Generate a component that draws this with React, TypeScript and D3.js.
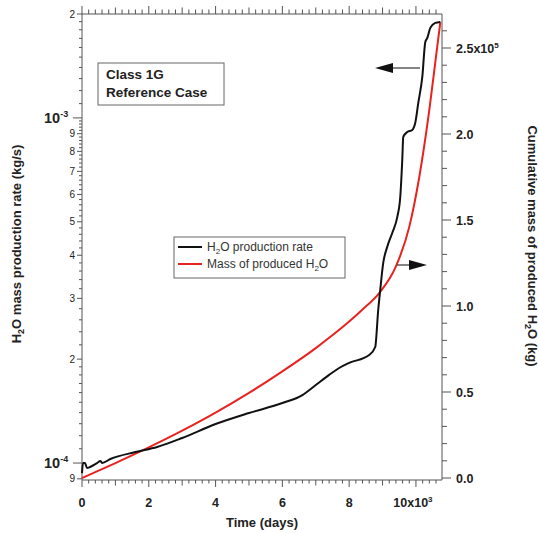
import React from "react";
import * as d3 from "d3";

const W = 539;
const H = 533;

// Time (10^3 days) and H2O mass production rate (kg/s)
const rateTime = [0, 0.03, 0.09, 0.15, 0.24, 0.45, 0.55, 0.6, 0.85, 1.6, 2.25, 3, 4, 5, 6, 6.6, 7.0, 7.4, 7.7, 8.0, 8.6, 8.78, 8.87, 8.93, 9.02, 9.14, 9.29, 9.44, 9.53, 9.59, 9.62, 9.74, 9.89, 9.98, 10.07, 10.19, 10.28, 10.34, 10.43, 10.58, 10.73];
const rateValues = [0.935e-4, 1.0e-4, 1.0e-4, 0.967e-4, 0.974e-4, 1.0e-4, 1.013e-4, 1.0e-4, 1.027e-4, 1.076e-4, 1.113e-4, 1.182e-4, 1.297e-4, 1.396e-4, 1.492e-4, 1.574e-4, 1.683e-4, 1.8e-4, 1.885e-4, 1.95e-4, 2.056e-4, 2.169e-4, 2.776e-4, 3.17e-4, 3.8e-4, 4.23e-4, 4.64e-4, 5.16e-4, 5.9e-4, 7.55e-4, 8.81e-4, 9.1e-4, 9.23e-4, 9.68e-4, 1.105e-3, 1.314e-3, 1.66e-3, 1.705e-3, 1.823e-3, 1.885e-3, 1.897e-3];

// Time (10^3 days) and cumulative mass of produced H2O (kg)
const massTime = [0, 1, 2, 3, 4, 5, 6, 7, 7.4, 8, 8.4, 8.9, 9.4, 9.8, 10.1, 10.4, 10.6, 10.73];
const massValues = [0, 0.087e5, 0.178e5, 0.275e5, 0.38e5, 0.495e5, 0.62e5, 0.755e5, 0.815e5, 0.91e5, 0.98e5, 1.075e5, 1.23e5, 1.46e5, 1.75e5, 2.14e5, 2.45e5, 2.65e5];

// Tick labels
const xTickValues = [0, 2, 4, 6, 8, 10];
const xTickLabels = ["0", "2", "4", "6", "8", "10x10"];
const xTickSup = ["", "", "", "", "", "3"];
const leftTickValues = [9e-5, 2e-4, 3e-4, 4e-4, 5e-4, 6e-4, 7e-4, 8e-4, 9e-4, 2e-3];
const leftTickLabels = ["9", "2", "3", "4", "5", "6", "7", "8", "9", "2"];
const leftDecadeValues = [1e-4, 1e-3];
const leftDecadeExps = ["-4", "-3"];
const rightTickValues = [0, 0.5e5, 1.0e5, 1.5e5, 2.0e5, 2.5e5];
const rightTickLabels = ["0.0", "0.5", "1.0", "1.5", "2.0", "2.5x10"];
const rightTickSup = ["", "", "", "", "", "5"];

const legendLabels = ["production rate", "Mass of produced H"];

const FONT = "'Liberation Sans', Arial, Helvetica, sans-serif";
const AX = "#555";
const TXT = "#222";

export default function App() {
  const L = 82, R = 442, T = 14, B = 480;
  const x = d3.scaleLinear().domain([0, 10.78]).range([L, R]);
  const yL = d3.scaleLog().domain([8.93e-5, 2.0e-3]).range([B, T]);
  const yR = d3.scaleLinear().domain([-1160, 269770]).range([B, T]);

  const rateLine = d3
    .line<number>()
    .x((_, i) => x(rateTime[i]))
    .y((d) => yL(d))
    .curve(d3.curveMonotoneX);
  const massLine = d3
    .line<number>()
    .x((_, i) => x(massTime[i]))
    .y((d) => yR(d))
    .curve(d3.curveMonotoneX);

  // x minor ticks every 0.2
  const xTicks: { v: number; len: number }[] = [];
  for (let k = 0; k <= 53; k++) {
    const v = k * 0.2;
    const isMajor = k % 10 === 0;
    const isMid = k % 5 === 0 && !isMajor;
    xTicks.push({ v, len: isMajor ? 7 : isMid ? 5.5 : 3.5 });
  }

  // left log minor ticks
  const leftMinor: number[] = [];
  [1e-4, 1e-3].forEach((d) => {
    for (let m = 11; m <= 19; m++) leftMinor.push((m / 10) * d);
    for (let m = 22; m <= 98; m += 2) if (m % 10 !== 0) leftMinor.push((m / 10) * d);
  });
  const leftMinorIn = leftMinor.filter((v) => v <= 2.0e-3 && v >= 8.93e-5);

  // right ticks every 0.1e5
  const rTicks: { v: number; len: number }[] = [];
  for (let k = 0; k <= 26; k++) {
    rTicks.push({ v: k * 1e4, len: k % 5 === 0 ? 9 : 5 });
  }

  return (
    <div style={{ position: "absolute", left: 0, top: 0 }}>
      <svg width={W} height={H} style={{ display: "block", background: "#fff" }} fontFamily={FONT}>
        <rect x={0} y={0} width={W} height={H} fill="#fff" />

        {/* axes lines */}
        <line x1={L} y1={T} x2={R} y2={T} stroke={AX} strokeWidth={1} />
        <line x1={L} y1={B} x2={R} y2={B} stroke={AX} strokeWidth={1} />
        <line x1={L} y1={T} x2={L} y2={B} stroke={AX} strokeWidth={1} />
        <line x1={R} y1={T} x2={R} y2={B} stroke={AX} strokeWidth={1} />

        {/* x ticks bottom & top */}
        {xTicks.map((t, i) => (
          <g key={"xt" + i}>
            <line x1={x(t.v)} x2={x(t.v)} y1={B} y2={B + t.len} stroke={AX} />
            <line x1={x(t.v)} x2={x(t.v)} y1={T} y2={T - t.len - 1} stroke={AX} />
          </g>
        ))}
        {xTickValues.map((v, i) => (
          <text
            key={"xl" + i}
            x={x(v) + (xTickSup[i] ? -3 : 0)}
            y={507}
            textAnchor="middle"
            fontSize={12.5}
            fontWeight="bold"
            fill={TXT}
          >
            {xTickLabels[i]}
            {xTickSup[i] ? (
              <tspan dy={-5} fontSize={8}>
                {xTickSup[i]}
              </tspan>
            ) : null}
          </text>
        ))}

        {/* left ticks */}
        {leftMinorIn.map((v, i) => (
          <line key={"lm" + i} x1={L} x2={L - 3} y1={yL(v)} y2={yL(v)} stroke={AX} />
        ))}
        {leftTickValues.map((v, i) => (
          <g key={"lt" + i}>
            <line x1={L} x2={L - 5} y1={yL(v)} y2={yL(v)} stroke={AX} />
            <text x={L - 7} y={yL(v) + 3.5} textAnchor="end" fontSize={10} fill={TXT}>
              {leftTickLabels[i]}
            </text>
          </g>
        ))}
        {leftDecadeValues.map((v, i) => (
          <g key={"ld" + i}>
            <line x1={L} x2={L - 9} y1={yL(v)} y2={yL(v)} stroke={AX} />
            <text x={44} y={yL(v) + 5} fontSize={14.5} fontWeight="bold" fill={TXT}>
              10
              <tspan dy={-6} fontSize={9}>
                {leftDecadeExps[i]}
              </tspan>
            </text>
          </g>
        ))}

        {/* right ticks */}
        {rTicks.map((t, i) => (
          <line key={"rt" + i} x1={R} x2={R + t.len} y1={yR(t.v)} y2={yR(t.v)} stroke={AX} />
        ))}
        {rightTickValues.map((v, i) => (
          <text key={"rl" + i} x={456} y={yR(v) + 4.5} fontSize={12.5} fontWeight="bold" fill={TXT}>
            {rightTickLabels[i]}
            {rightTickSup[i] ? (
              <tspan dy={-5} fontSize={8}>
                {rightTickSup[i]}
              </tspan>
            ) : null}
          </text>
        ))}

        {/* data lines */}
        <path d={massLine(massValues) || ""} fill="none" stroke="#e8231f" strokeWidth={2} />
        <path d={rateLine(rateValues) || ""} fill="none" stroke="#111" strokeWidth={2} strokeLinejoin="round" />

        {/* class box */}
        <rect x={98} y={63} width={126} height={42} fill="#fff" stroke="#666" strokeWidth={1} />
        <text x={106} y={79} fontSize={13.5} fontWeight="bold" fill={TXT}>
          Class 1G
        </text>
        <text x={106} y={97} fontSize={13.5} fontWeight="bold" fill={TXT}>
          Reference Case
        </text>

        {/* arrows */}
        <line x1={392} x2={420} y1={68} y2={68} stroke="#333" strokeWidth={1.2} />
        <polygon points="375,68 393,63 393,73" fill="#111" />
        <line x1={397} x2={410} y1={265} y2={265} stroke="#333" strokeWidth={1.2} />
        <polygon points="427,265 409,260 409,270" fill="#111" />

        {/* legend */}
        <rect x={174} y={237} width={171} height={41} fill="#fff" stroke="#666" strokeWidth={1} />
        <line x1={178} x2={202} y1={247} y2={247} stroke="#111" strokeWidth={2} />
        <line x1={178} x2={202} y1={264} y2={264} stroke="#e8231f" strokeWidth={2} />
        <text x={207} y={251} fontSize={12} fill="#333">
          H<tspan dy={3} fontSize={8}>2</tspan>
          <tspan dy={-3}>O {legendLabels[0]}</tspan>
        </text>
        <text x={207} y={268} fontSize={12} fill="#333">
          {legendLabels[1]}
          <tspan dy={3} fontSize={8}>2</tspan>
          <tspan dy={-3}>O</tspan>
        </text>

        {/* axis titles */}
        <text x={262} y={527} textAnchor="middle" fontSize={13} fontWeight="bold" fill={TXT}>
          Time (days)
        </text>
        <text transform="translate(21,244) rotate(-90)" textAnchor="middle" fontSize={13} fontWeight="bold" fill={TXT}>
          H<tspan dy={3} fontSize={9}>2</tspan>
          <tspan dy={-3}>O mass production rate (kg/s)</tspan>
        </text>
        <text transform="translate(528,246) rotate(90)" textAnchor="middle" fontSize={13} fontWeight="bold" fill={TXT}>
          Cumulative mass of produced H<tspan dy={3} fontSize={9}>2</tspan>
          <tspan dy={-3}>O (kg)</tspan>
        </text>
      </svg>
    </div>
  );
}
